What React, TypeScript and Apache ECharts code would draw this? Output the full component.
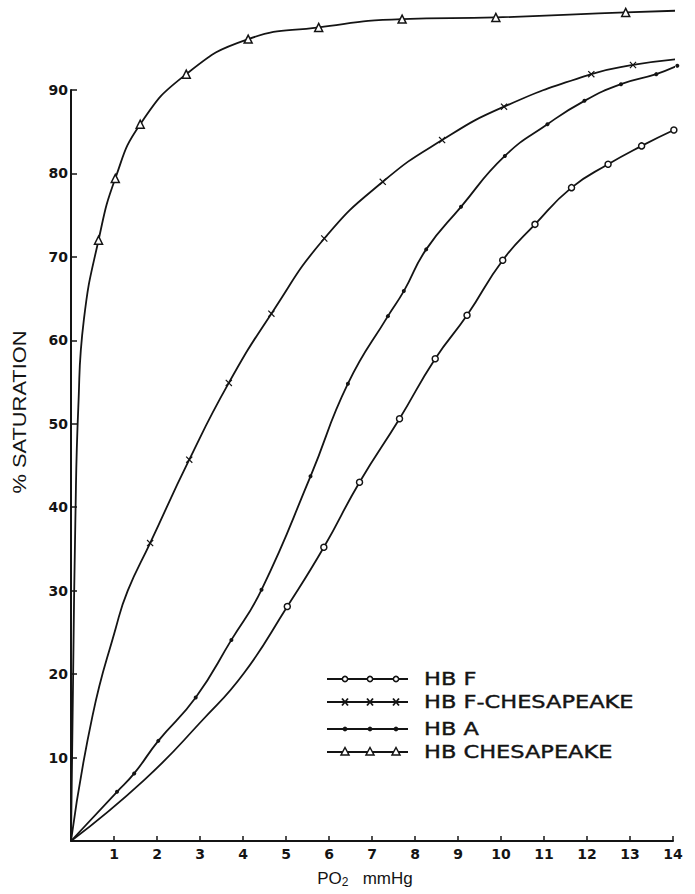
import React, { useEffect, useRef } from "react";
import * as echarts from "echarts";

// ---- data ----
const seriesNames = ["HB F", "HB F-CHESAPEAKE", "HB A", "HB CHESAPEAKE"];
const xTickValues = [0, 1, 2, 3, 4, 5, 6, 7, 8, 9, 10, 11, 12, 13, 14];
const yTickValues = [0, 10, 20, 30, 40, 50, 60, 70, 80, 90];

// HB F (open circles)
const hbFMarkers: number[][] = [
  [5.03, 28.1], [5.88, 35.2], [6.71, 43.0], [7.64, 50.6], [8.47, 57.8], [9.21, 63.0],
  [10.04, 69.6], [10.79, 73.9], [11.64, 78.3], [12.49, 81.1], [13.27, 83.3], [14.02, 85.2],
];
const hbFTrace: number[][] = [[0, 0], [1.7, 7.3], [3.06, 14.5], [4.02, 20.1]];

// HB F-Chesapeake (x marks)
const hbFChesMarkers: number[][] = [
  [1.84, 35.7], [2.75, 45.7], [3.67, 54.9], [4.66, 63.2], [5.89, 72.2], [7.25, 79.0],
  [8.63, 84.0], [10.07, 88.0], [12.1, 91.9], [13.07, 93.0],
];
const hbFChesTrace: number[][] = [[0, 0], [0.5, 15], [1.04, 25.5], [1.32, 30], [14.1, 93.7]];

// HB A (filled dots)
const hbAMarkers: number[][] = [
  [1.07, 5.9], [1.47, 8.1], [2.03, 12.0], [2.9, 17.2], [3.73, 24.1], [4.43, 30.1],
  [5.57, 43.7], [6.44, 54.8], [7.37, 62.9], [7.74, 65.9], [8.26, 70.9], [9.07, 76.0],
  [10.09, 82.1], [11.08, 85.9], [11.94, 88.7], [12.79, 90.7], [13.61, 91.9], [14.1, 92.9],
];
const hbATrace: number[][] = [[0, 0]];

// HB Chesapeake (open triangles)
const hbChesMarkers: number[][] = [
  [0.64, 72.0], [1.03, 79.4], [1.61, 85.9], [2.68, 91.9], [4.12, 96.1], [5.76, 97.5],
  [7.7, 98.5], [9.88, 98.7], [12.9, 99.3],
];
const hbChesTrace: number[][] = [
  [0, 0], [0.05, 20], [0.1, 38], [0.17, 52], [0.3, 62.5], [14.05, 99.5],
];

const INK = "#141414";
const X_PATH = "path://M0,1.2L1.2,0L5,3.8L8.8,0L10,1.2L6.2,5L10,8.8L8.8,10L5,6.2L1.2,10L0,8.8L3.8,5Z";

function buildData(markers: number[][], trace: number[][]) {
  const pts = [
    ...markers.map((p) => ({ value: p, marker: true })),
    ...trace.map((p) => ({ value: p, marker: false })),
  ].sort((a, b) => a.value[0] - b.value[0]);
  return pts.map((p) => (p.marker ? { value: p.value } : { value: p.value, symbol: "none" }));
}

const seriesStyles = [
  { symbol: "circle", symbolSize: 6, fill: "#fff" },
  { symbol: X_PATH, symbolSize: 7, fill: INK },
  { symbol: "circle", symbolSize: 4, fill: INK },
  { symbol: "triangle", symbolSize: 8, fill: "#fff" },
];

export default function App() {
  const ref = useRef<HTMLDivElement>(null);
  useEffect(() => {
    if (!ref.current) return;
    const chart = echarts.init(ref.current, undefined, { renderer: "svg" });
    const dataSets = [
      buildData(hbFMarkers, hbFTrace),
      buildData(hbFChesMarkers, hbFChesTrace),
      buildData(hbAMarkers, hbATrace),
      buildData(hbChesMarkers, hbChesTrace),
    ];

    const legendRows = [679, 702, 729, 752];
    const legendMarkerX = [345, 370, 396];
    const legendGraphics: any[] = [];
    seriesNames.forEach((name, i) => {
      const y = legendRows[i];
      legendGraphics.push({
        type: "line",
        shape: { x1: 327, y1: y, x2: 408, y2: y },
        style: { stroke: INK, lineWidth: 1.8 },
      });
      legendMarkerX.forEach((mx) => {
        if (i === 0) {
          legendGraphics.push({ type: "circle", shape: { cx: mx, cy: y, r: 2.6 }, style: { fill: "#fff", stroke: INK, lineWidth: 1.5 } });
        } else if (i === 1) {
          legendGraphics.push({ type: "line", shape: { x1: mx - 3, y1: y - 3.5, x2: mx + 3, y2: y + 3.5 }, style: { stroke: INK, lineWidth: 1.8 } });
          legendGraphics.push({ type: "line", shape: { x1: mx + 3, y1: y - 3.5, x2: mx - 3, y2: y + 3.5 }, style: { stroke: INK, lineWidth: 1.8 } });
        } else if (i === 2) {
          legendGraphics.push({ type: "circle", shape: { cx: mx, cy: y, r: 2.4 }, style: { fill: INK } });
        } else {
          legendGraphics.push({ type: "polygon", shape: { points: [[mx, y - 4.5], [mx + 4, y + 3], [mx - 4, y + 3]] }, style: { fill: "#fff", stroke: INK, lineWidth: 1.5 } });
        }
      });
      legendGraphics.push({
        type: "text",
        x: 424,
        y: y,
        scaleX: 1.25,
        style: {
          text: name,
          fontFamily: "DejaVu Sans",
          fontSize: 18,
          fill: INK,
          stroke: INK,
          lineWidth: 0.4,
          textVerticalAlign: "middle",
          textAlign: "left",
        },
      });
    });

    const option: any = {
      animation: false,
      backgroundColor: "#fff",
      grid: { left: 71, right: 22, top: 90, bottom: 53, containLabel: false },
      xAxis: {
        type: "value",
        min: 0,
        max: 14,
        interval: 1,
        name: "PO{sub|2}   mmHg",
        nameLocation: "middle",
        nameGap: 27,
        nameTextStyle: {
          fontFamily: "Liberation Sans",
          fontSize: 17,
          color: INK,
          padding: [0, 14, 0, 0],
          rich: { sub: { fontFamily: "Liberation Sans", fontSize: 12, color: INK, verticalAlign: "bottom", padding: [8, 0, 0, 0] } },
        },
        axisLine: { lineStyle: { color: INK, width: 2 } },
        axisTick: { inside: true, length: 5, lineStyle: { color: INK, width: 1.5 } },
        axisLabel: {
          formatter: (v: number) => (v === 0 ? "" : String(v)),
          fontFamily: "DejaVu Sans",
          fontWeight: "bold",
          fontSize: 14,
          color: INK,
          margin: 6,
        },
        splitLine: { show: false },
        data: xTickValues,
      },
      yAxis: {
        type: "value",
        min: 0,
        max: 90,
        interval: 10,
        axisLine: { show: true, lineStyle: { color: INK, width: 2 } },
        axisTick: { show: true, inside: true, length: 6, lineStyle: { color: INK, width: 1.5 } },
        axisLabel: {
          formatter: (v: number) => (v === 0 ? "" : String(v)),
          fontFamily: "DejaVu Sans",
          fontWeight: "bold",
          fontSize: 14,
          color: INK,
          margin: 3,
        },
        splitLine: { show: false },
        data: yTickValues,
      },
      graphic: [
        {
          type: "text",
          x: 19,
          y: 412,
          rotation: Math.PI / 2,
          scaleX: 1.15,
          style: {
            text: "% SATURATION",
            fontFamily: "Liberation Sans",
            fontSize: 19,
            fill: INK,
            textAlign: "center",
            textVerticalAlign: "middle",
          },
        },
        ...legendGraphics,
      ],
      series: dataSets.map((d, i) => ({
        name: seriesNames[i],
        type: "line",
        data: d,
        smooth: 0.5,
        clip: false,
        symbol: seriesStyles[i].symbol,
        symbolSize: seriesStyles[i].symbolSize,
        showSymbol: true,
        lineStyle: { color: INK, width: 1.8 },
        itemStyle: { color: seriesStyles[i].fill, borderColor: INK, borderWidth: i === 1 || i === 2 ? 0 : 1.5 },
        emphasis: { disabled: true },
      })),
    };
    chart.setOption(option);
    return () => chart.dispose();
  }, []);

  return (
    <div
      ref={ref}
      style={{ position: "absolute", left: 0, top: 0, width: 695, height: 894, background: "#fff" }}
    />
  );
}
